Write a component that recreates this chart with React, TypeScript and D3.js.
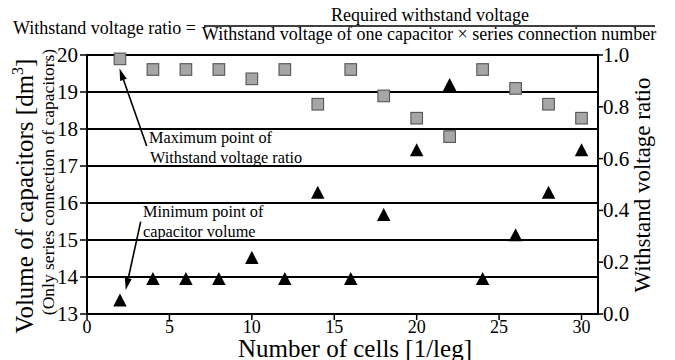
import React from "react";
import * as d3 from "d3";

const cells = [2, 4, 6, 8, 10, 12, 14, 16, 18, 20, 22, 24, 26, 28, 30];
const volume = [13.38, 13.96, 13.96, 13.96, 14.53, 13.96, 16.29, 13.96, 15.69, 17.44, 19.2, 13.96, 15.14, 16.29, 17.44];
const ratio = [0.985, 0.944, 0.944, 0.944, 0.908, 0.944, 0.81, 0.944, 0.842, 0.756, 0.685, 0.944, 0.871, 0.81, 0.756];
const xTicks = [0, 5, 10, 15, 20, 25, 30];
const leftTicks = [13, 14, 15, 16, 17, 18, 19, 20];
const rightTicks = [0, 0.2, 0.4, 0.6, 0.8, 1.0];

const FONT = `"Liberation Serif", "Times", monospace`;

export default function App() {
  const L = 87, R = 598, T = 55, B = 314;
  const x = d3.scaleLinear().domain([0, 31]).range([L, R]);
  const yL = d3.scaleLinear().domain([13, 20]).range([B, T]);
  const yR = d3.scaleLinear().domain([0, 1]).range([B, T]);
  const fmt = d3.format(".1f");

  const tri = (cx: number, cy: number) => {
    const w = 13.5, h = 13;
    return `M${cx},${cy - h / 2}L${cx + w / 2},${cy + h / 2}L${cx - w / 2},${cy + h / 2}Z`;
  };

  const arrow = (x1: number, y1: number, x2: number, y2: number) => {
    const ang = Math.atan2(y2 - y1, x2 - x1);
    const len = 12, hw = 3.5;
    const bx = x2 - len * Math.cos(ang), by = y2 - len * Math.sin(ang);
    const px = -Math.sin(ang) * hw, py = Math.cos(ang) * hw;
    return (
      <g>
        <line x1={x1} y1={y1} x2={bx} y2={by} stroke="#000" strokeWidth={1.6} />
        <path d={`M${x2},${y2}L${bx + px},${by + py}L${bx - px},${by - py}Z`} fill="#000" />
      </g>
    );
  };

  const ts = { fontFamily: FONT };

  return (
    <svg width={675} height={360} style={{ position: "absolute", left: 0, top: 0, background: "#fff" }}>
      {/* Formula */}
      <text style={ts} x={13} y={33.5} fontSize={18}>Withstand voltage ratio =</text>
      <text style={ts} x={430} y={21} fontSize={18} textAnchor="middle">Required withstand voltage</text>
      <line x1={204} x2={655} y1={26} y2={26} stroke="#000" strokeWidth={1.3} />
      <text style={ts} x={429} y={40} fontSize={18} textAnchor="middle">Withstand voltage of one capacitor × series connection number</text>

      {/* gridlines */}
      {leftTicks.map((t) => (
        <line key={"g" + t} x1={L} x2={R} y1={yL(t)} y2={yL(t)} stroke="#000" strokeWidth={2} />
      ))}
      {/* axes */}
      <line x1={L} x2={L} y1={T - 1} y2={B + 1} stroke="#000" strokeWidth={2} />
      <line x1={R} x2={R} y1={T - 1} y2={B + 1} stroke="#000" strokeWidth={2} />

      {/* left ticks */}
      {leftTicks.map((t) => (
        <g key={"l" + t}>
          <line x1={L - 7} x2={L} y1={yL(t)} y2={yL(t)} stroke="#000" strokeWidth={1.5} />
          <text style={ts} x={78} y={yL(t) + 7} fontSize={21} textAnchor="end">{t}</text>
        </g>
      ))}
      {/* right ticks */}
      {rightTicks.map((t) => (
        <g key={"r" + t}>
          <line x1={R} x2={R + 5} y1={yR(t)} y2={yR(t)} stroke="#000" strokeWidth={1.5} />
          <text style={ts} x={603} y={yR(t) + 7} fontSize={21}>{fmt(t)}</text>
        </g>
      ))}
      {/* bottom ticks */}
      {xTicks.map((t) => (
        <g key={"b" + t}>
          <line x1={x(t)} x2={x(t)} y1={B} y2={B + 6} stroke="#000" strokeWidth={1.5} />
          <text style={ts} x={x(t)} y={333} fontSize={18} textAnchor="middle">{t}</text>
        </g>
      ))}

      {/* markers */}
      {cells.map((c, i) => (
        <rect key={"s" + c} x={x(c) - 5.8} y={yR(ratio[i]) - 5.8} width={11.6} height={11.6} fill="#a6a6a6" stroke="#555" strokeWidth={1.1} />
      ))}
      {cells.map((c, i) => (
        <path key={"t" + c} d={tri(x(c), yL(volume[i]))} fill="#000" />
      ))}

      {/* annotations */}
      {arrow(146.7, 146, 119.5, 68.5)}
      <text style={ts} x={149} y={143.3} fontSize={16.3}>Maximum point of</text>
      <text style={ts} x={150} y={163.3} fontSize={16.3}>Withstand voltage ratio</text>
      {arrow(140.7, 221.7, 125.7, 290)}
      <text style={ts} x={143} y={217} fontSize={16.3}>Minimum point of</text>
      <text style={ts} x={143} y={236.7} fontSize={16.3}>capacitor volume</text>

      {/* axis titles */}
      <text style={ts} transform="translate(33,196) rotate(-90)" fontSize={25} textAnchor="middle">
        Volume of capacitors [dm<tspan fontSize={16} dy={-10}>3</tspan><tspan dy={10}>]</tspan>
      </text>
      <text style={ts} transform="translate(54,182) rotate(-90)" fontSize={17.5} textAnchor="middle">(Only series connection of capacitors)</text>
      <text style={ts} transform="translate(650,185) rotate(-90)" fontSize={23} textAnchor="middle">Withstand voltage ratio</text>
      <text style={ts} x={355} y={356.5} fontSize={25} textAnchor="middle">Number of cells [1/leg]</text>
    </svg>
  );
}
